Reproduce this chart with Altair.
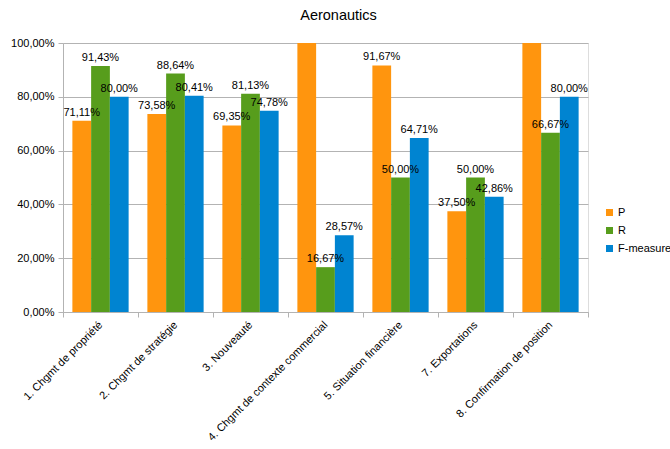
import altair as alt
import pandas as pd

categories = [
    "1. Chgmt de propriété",
    "2. Chgmt de stratégie",
    "3. Nouveauté",
    "4. Chgmt de contexte commercial",
    "5. Situation financière",
    "7. Exportations",
    "8. Confirmation de position",
]
series = ["P", "R", "F-measure"]
p_values = [0.7111, 0.7358, 0.6935, 1.0, 0.9167, 0.3750, 1.0]
r_values = [0.9143, 0.8864, 0.8113, 0.1667, 0.5000, 0.5000, 0.6667]
f_values = [0.8000, 0.8041, 0.7478, 0.2857, 0.6471, 0.4286, 0.8000]
colors = ["#ff950e", "#579d1c", "#0084d1"]

rows = []
for s, vals in zip(series, [p_values, r_values, f_values]):
    for c, v in zip(categories, vals):
        rows.append({"category": c, "series": s, "value": v})
df = pd.DataFrame(rows)

FONT = "Liberation Sans"

x_enc = alt.X(
    "category:N",
    sort=categories,
    title=None,
    scale=alt.Scale(paddingInner=0, paddingOuter=0),
    axis=alt.Axis(
        labelAngle=-45,
        labelAlign="right",
        labelBaseline="middle",
        tickBand="extent",
        tickSize=5,
        tickColor="#b3b3b3",
        domainColor="#b3b3b3",
        labelFont=FONT,
        labelFontSize=11,
        labelColor="#000000",
        labelPadding=6,
        labelLimit=300,
    ),
)
xoff = alt.XOffset("series:N", sort=series, scale=alt.Scale(paddingOuter=0.5, paddingInner=0))

bars = alt.Chart(df).mark_bar().encode(
    x=x_enc,
    xOffset=xoff,
    y=alt.Y(
        "value:Q",
        title=None,
        scale=alt.Scale(domain=[0, 1], nice=False),
        axis=alt.Axis(
            values=[0, 0.2, 0.4, 0.6, 0.8, 1.0],
            labelExpr="replace(format(datum.value, '.2%'), '.', ',')",
            grid=True,
            gridColor="#b3b3b3",
            tickColor="#b3b3b3",
            domainColor="#b3b3b3",
            tickSize=5,
            labelFont=FONT,
            labelFontSize=11,
            labelColor="#000000",
            labelPadding=4,
        ),
    ),
    color=alt.Color(
        "series:N",
        sort=series,
        scale=alt.Scale(domain=series, range=colors),
        legend=alt.Legend(
            title=None,
            orient="none",
            legendX=541,
            legendY=164,
            symbolType="square",
            symbolSize=49,
            symbolStrokeWidth=0,
            labelFont=FONT,
            labelFontSize=11,
            labelColor="#000000",
            rowPadding=6,
            labelOffset=3,
        ),
    ),
)

labels = alt.Chart(df).transform_filter("datum.value < 1").mark_text(
    baseline="bottom", dy=-3, font=FONT, fontSize=11, color="#000000"
).encode(
    x=alt.X("category:N", sort=categories),
    xOffset=alt.XOffset("series:N", sort=series),
    y="value:Q",
    text=alt.Text("lbl:N"),
).transform_calculate(lbl="replace(format(datum.value, '.2%'), '.', ',')")

chart = alt.layer(bars, labels).properties(
    width=525,
    height=269,
    title=alt.TitleParams("Aeronautics", font=FONT, fontSize=14.5, fontWeight="normal", color="#000000", offset=14, dx=13),
    autosize=alt.AutoSizeParams(type="none"),
    padding={"left": 63, "top": 43, "right": 82, "bottom": 137},
).configure_view(stroke="#b3b3b3").configure(background="white")

chart.save("out.html", embed_options={"renderer": "svg", "actions": False})
